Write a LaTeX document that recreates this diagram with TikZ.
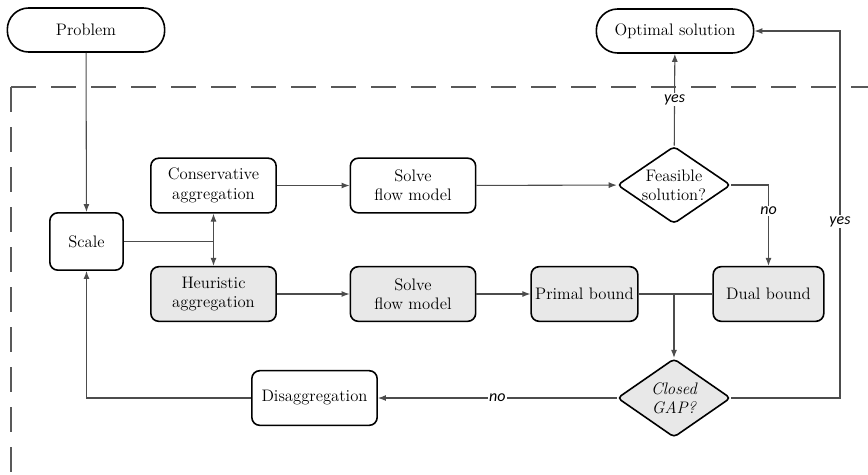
\documentclass[tikz,border=0pt]{standalone}
\usepackage{fontspec}
\setsansfont{Carlito}
\usetikzlibrary{shapes.geometric,arrows.meta,positioning}
\tikzset{font={\fontsize{12.5pt}{14.5pt}\selectfont}}
\tikzset{
  process/.style={draw, line width=1.2pt, rounded corners=6pt, align=center, minimum height=41pt, inner sep=2pt},
  terminal/.style={draw, line width=1.2pt, rounded corners=16pt, minimum width=118pt, minimum height=33pt},
  decision/.style={draw, diamond, aspect=1.5, line width=1.2pt, rounded corners=3pt, align=center, inner sep=0pt, minimum width=85pt, minimum height=58pt},
  shaded/.style={fill=gray!18},
  flow/.style={draw=black!70, line width=0.8pt, -{Latex[length=6pt,width=4.5pt]}},
  link/.style={draw=black!70, line width=0.8pt},
  answer/.style={fill=white, inner sep=1pt, font={\sffamily\itshape\fontsize{12pt}{14pt}\selectfont}},
  frame/.style={draw=black!65, line width=0.9pt, dash pattern=on 19pt off 11pt},
}

\begin{document}
\begin{tikzpicture}[x=0.75pt, y=-0.75pt]
  \useasboundingbox (0,0) rectangle (868,475);

  % Frame
  \coordinate (corner) at (11,87);
  \draw[frame] (corner) -- (868,87);
  \draw[frame] (corner) -- (11,475);

  % Define nodes
  \node[terminal] (problem) at (86,30) {Problem};
  \node[terminal] (opt) at (675,31) {Optimal solution};
  \node[process, minimum width=55pt, minimum height=43pt] (scale) at (86.5,241.5) {Scale};
  \node[process, minimum width=94pt] (cons) at (213.5,185.5) {Conservative\\aggregation};
  \node[process, minimum width=94pt] (solveA) at (413,185.5) {Solve\\flow model};
  \node[decision] (feas) at (674,185) {Feasible\\solution?};
  \node[process, shaded, minimum width=94pt] (heur) at (213.5,294) {Heuristic\\aggregation};
  \node[process, shaded, minimum width=94pt] (solveB) at (413,294) {Solve\\flow model};
  \node[process, shaded, minimum width=80pt] (primal) at (584.5,294) {Primal bound};
  \node[process, shaded, minimum width=83pt] (dual) at (768.5,294) {Dual bound};
  \node[decision, shaded, minimum height=59pt, font={\itshape\fontsize{12.5pt}{14.5pt}\selectfont}] (gap) at (674,398) {Closed\\GAP?};
  \node[process, minimum width=94pt] (disagg) at (314.5,398) {Disaggregation};
  \coordinate (split) at (213.5,241.5);
  \coordinate (join) at (674,294);
  \coordinate (loop) at (840,31);

  % Connect the nodes
  \draw[flow] (problem) -- (scale);
  \draw[link] (scale) -- (split);
  \draw[flow] (split) -- (cons);
  \draw[flow] (split) -- (heur);
  \draw[flow] (cons) -- (solveA);
  \draw[flow] (solveA) -- (feas);
  \draw[flow] (feas) -- node[answer] {yes} (opt);
  \draw[flow] (feas.east) -| node[answer, pos=0.66] {no} (dual.north);
  \draw[flow] (heur) -- (solveB);
  \draw[flow] (solveB) -- (primal);
  \draw[link] (primal) -- (dual);
  \draw[flow] (join) -- (gap);
  \draw[flow] (gap.east) -| node[answer, pos=0.74] {yes} (loop) -- (opt.east);
  \draw[flow] (gap) -- node[answer] {no} (disagg);
  \draw[flow] (disagg.west) -| (scale.south);
\end{tikzpicture}
\end{document}
